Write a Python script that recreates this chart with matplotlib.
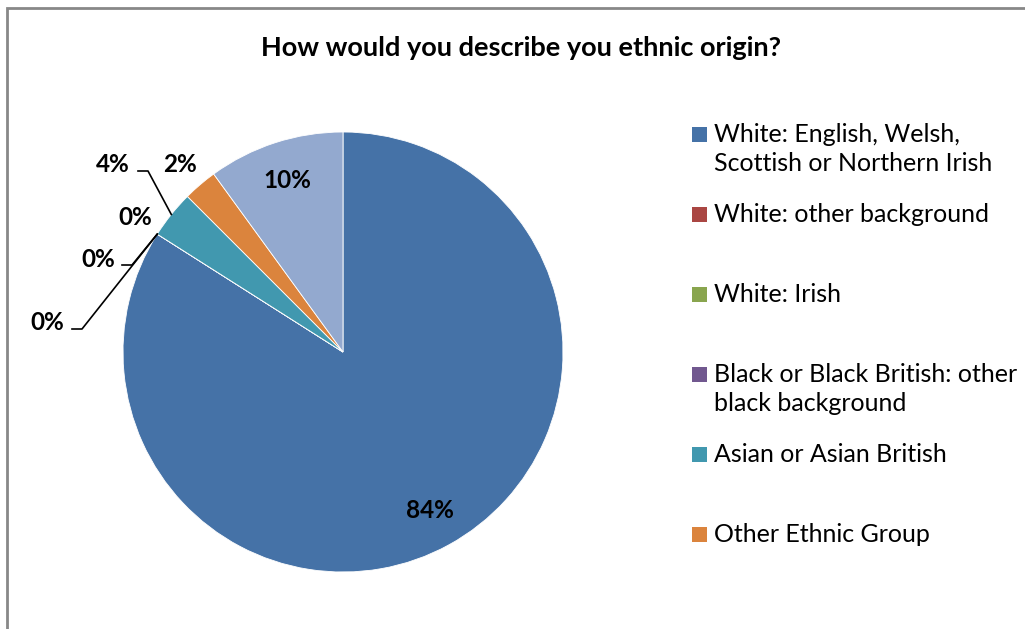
import matplotlib
matplotlib.use("Agg")
import matplotlib.pyplot as plt
from matplotlib.patches import Rectangle
import numpy as np

W, H = 1025, 629
CX, CY, R = 343, 352, 220  # pie centre / radius in pixels

TITLE = "How would you describe you ethnic origin?"
categories = [
    "White: English, Welsh,\nScottish or Northern Irish",
    "White: other background",
    "White: Irish",
    "Black or Black British: other\nblack background",
    "Asian or Asian British",
    "Other Ethnic Group",
    "Not stated",
]
values = [84.0, 0.0, 0.0, 0.0, 3.5, 2.5, 10.0]
colors = ["#4572A7", "#AA4643", "#89A54E", "#71588F", "#4198AF", "#DB843D", "#93A9CF"]
legend_count = 6  # last slice has no visible legend entry

# label centres in pixel coords (None -> inside the slice)
label_pos = [None, (47, 322), (98, 259), (135, 217), (113, 164), (180, 164), None]
# leader lines: (text side x, elbow x, y) or None
leaders = [None, (72, 82, 329), (122, 132, 265), None, (138, 148, 171), None, None]

FONT = "Lato"


def px(x, y):
    return (x - CX) / R, (CY - y) / R


def entry():
    fig = plt.figure(figsize=(W / 100, H / 100), dpi=100)
    ax = fig.add_axes([0, 0, 1, 1])
    wedges, _ = ax.pie(values, colors=colors, startangle=90, counterclock=False,
                       wedgeprops=dict(linewidth=0.6, edgecolor="white"))
    ax.set_xlim(-CX / R, (W - CX) / R)
    ax.set_ylim(-(H - CY) / R, CY / R)
    ax.axis("off")

    for i, w in enumerate(wedges):
        mid = np.deg2rad((w.theta1 + w.theta2) / 2)
        label = "%.0f%%" % values[i]
        if label_pos[i] is None:
            x, y = 0.82 * np.cos(mid), 0.82 * np.sin(mid)
        else:
            x, y = px(*label_pos[i])
        ax.text(x, y, label, ha="center", va="center", fontsize=17.5,
                fontweight="bold", family=FONT, color="black")
        if leaders[i] is not None:
            x0, x1, ly = leaders[i]
            ex, ey = np.cos(mid), np.sin(mid)
            a = px(x0, ly)
            b = px(x1, ly)
            ax.plot([a[0], b[0], ex], [a[1], b[1], ey], color="black", lw=1.2)

    fig.text(521 / W, 1 - 48 / H, TITLE, ha="center", va="center", fontsize=19.5,
             fontweight="bold", family=FONT)

    # legend, laid out like the Excel one (one slot every 80 px)
    for i in range(legend_count):
        top = 122 + 80 * i
        fig.patches.append(Rectangle((692 / W, 1 - (top + 20) / H), 15 / W, 15 / H,
                                     transform=fig.transFigure, facecolor=colors[i],
                                     edgecolor="none"))
        fig.text(714 / W, 1 - (top + 1) / H, categories[i], ha="left", va="top",
                 fontsize=18, family=FONT, linespacing=1.3)

    # chart area border (only top and left are visible)
    fig.patches.append(Rectangle((7 / W, -0.1), 1.2, 1.1 - 8 / H, transform=fig.transFigure,
                                 facecolor="none", edgecolor="#888888", lw=2))

    fig.savefig("out.png", dpi=100)


if __name__ == "__main__":
    entry()
